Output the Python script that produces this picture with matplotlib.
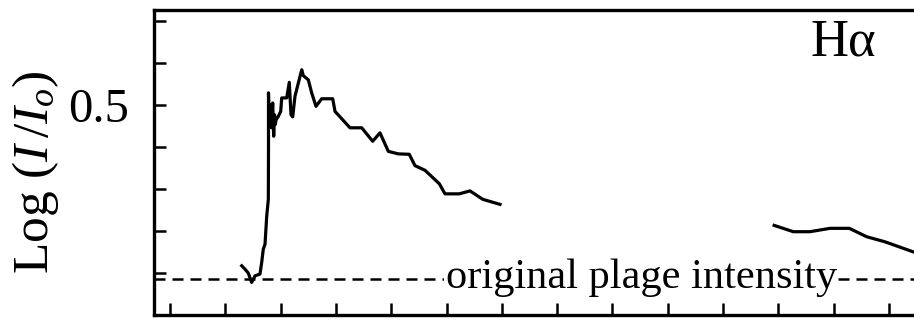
import matplotlib
matplotlib.use("Agg")
import matplotlib.pyplot as plt

plt.rcParams['font.family'] = ['Liberation Serif', 'DejaVu Serif']
plt.rcParams['mathtext.fontset'] = 'custom'
plt.rcParams['mathtext.rm'] = 'Liberation Serif'
plt.rcParams['mathtext.it'] = 'Liberation Serif:italic'

# Data (time in arbitrary tick units, log intensity ratio)
x1 = [1.297, 1.356, 1.416, 1.477, 1.537, 1.627, 1.658, 1.687, 1.718, 1.749,
      1.778, 1.781, 1.781, 1.795, 1.817, 1.835, 1.857, 1.875, 1.890, 1.904,
      1.917, 1.958, 2.002, 2.020, 2.110, 2.157, 2.188, 2.219, 2.260, 2.382,
      2.410, 2.501, 2.562, 2.640, 2.743, 2.942, 2.984, 3.255, 3.467, 3.665,
      3.797, 3.948, 4.128, 4.327, 4.430, 4.611, 4.870, 4.973, 5.231, 5.425,
      5.655, 5.967]
y1 = [0.117, 0.109, 0.0995, 0.0775, 0.0931, 0.0972, 0.1249, 0.1564, 0.168, 0.235,
      0.275, 0.393, 0.528, 0.457, 0.500, 0.445, 0.504, 0.425, 0.476, 0.453,
      0.464, 0.472, 0.484, 0.516, 0.516, 0.553, 0.476, 0.471, 0.520, 0.583,
      0.569, 0.559, 0.528, 0.496, 0.514, 0.514, 0.484, 0.445, 0.445, 0.413,
      0.433, 0.389, 0.383, 0.382, 0.355, 0.344, 0.312, 0.288, 0.288, 0.295,
      0.275, 0.263]
x2 = [10.925, 11.271, 11.573, 11.935, 12.284, 12.599, 12.929, 13.441, 13.6]
y2 = [0.213, 0.198, 0.198, 0.206, 0.206, 0.186, 0.174, 0.150, 0.145]
plage_level = 0.086
yticks = [0.1, 0.2, 0.3, 0.4, 0.5, 0.6, 0.7]
ytick_labels = ['', '', '', '', '0.5', '', '']
xticks = list(range(0, 14))

fig = plt.figure(figsize=(9.14, 3.19), dpi=100)
left = 154 / 914
bottom = 4 / 319
top = 1 - 10 / 319
right_px = 960
ax = fig.add_axes([left, bottom, (right_px - 154) / 914, top - bottom])
ax.set_xlim((154 - 170) / 55.3, (right_px - 170) / 55.3)
ax.set_ylim(0.0, 0.725)

ax.plot(x1, y1, color='black', lw=2.3)
ax.plot(x2, y2, color='black', lw=2.3)
ax.axhline(plage_level, color='black', lw=1.8, dashes=(4.4, 2.8))
ax.text(8.52, plage_level + 0.003, 'original plage intensity', fontsize=30.5,
        ha='center', va='center',
        bbox=dict(facecolor='white', edgecolor='none', pad=1))
ax.text(843 / 914, 1 - 42 / 319, 'Hα', transform=fig.transFigure,
        fontsize=38, ha='center', va='center')

ax.set_yticks(yticks)
ax.set_yticklabels(ytick_labels, fontsize=35)
ax.set_xticks(xticks)
ax.set_xticklabels([])
ax.tick_params(direction='in', length=8.5, width=1.8, pad=18)
for s in ax.spines.values():
    s.set_linewidth(2.4)

fig.text(36 / 914, 1 - 172 / 319, r'Log ($I\,/I_o$)', rotation=90,
         fontsize=37, ha='center', va='center')

fig.savefig('out.png', dpi=100)
